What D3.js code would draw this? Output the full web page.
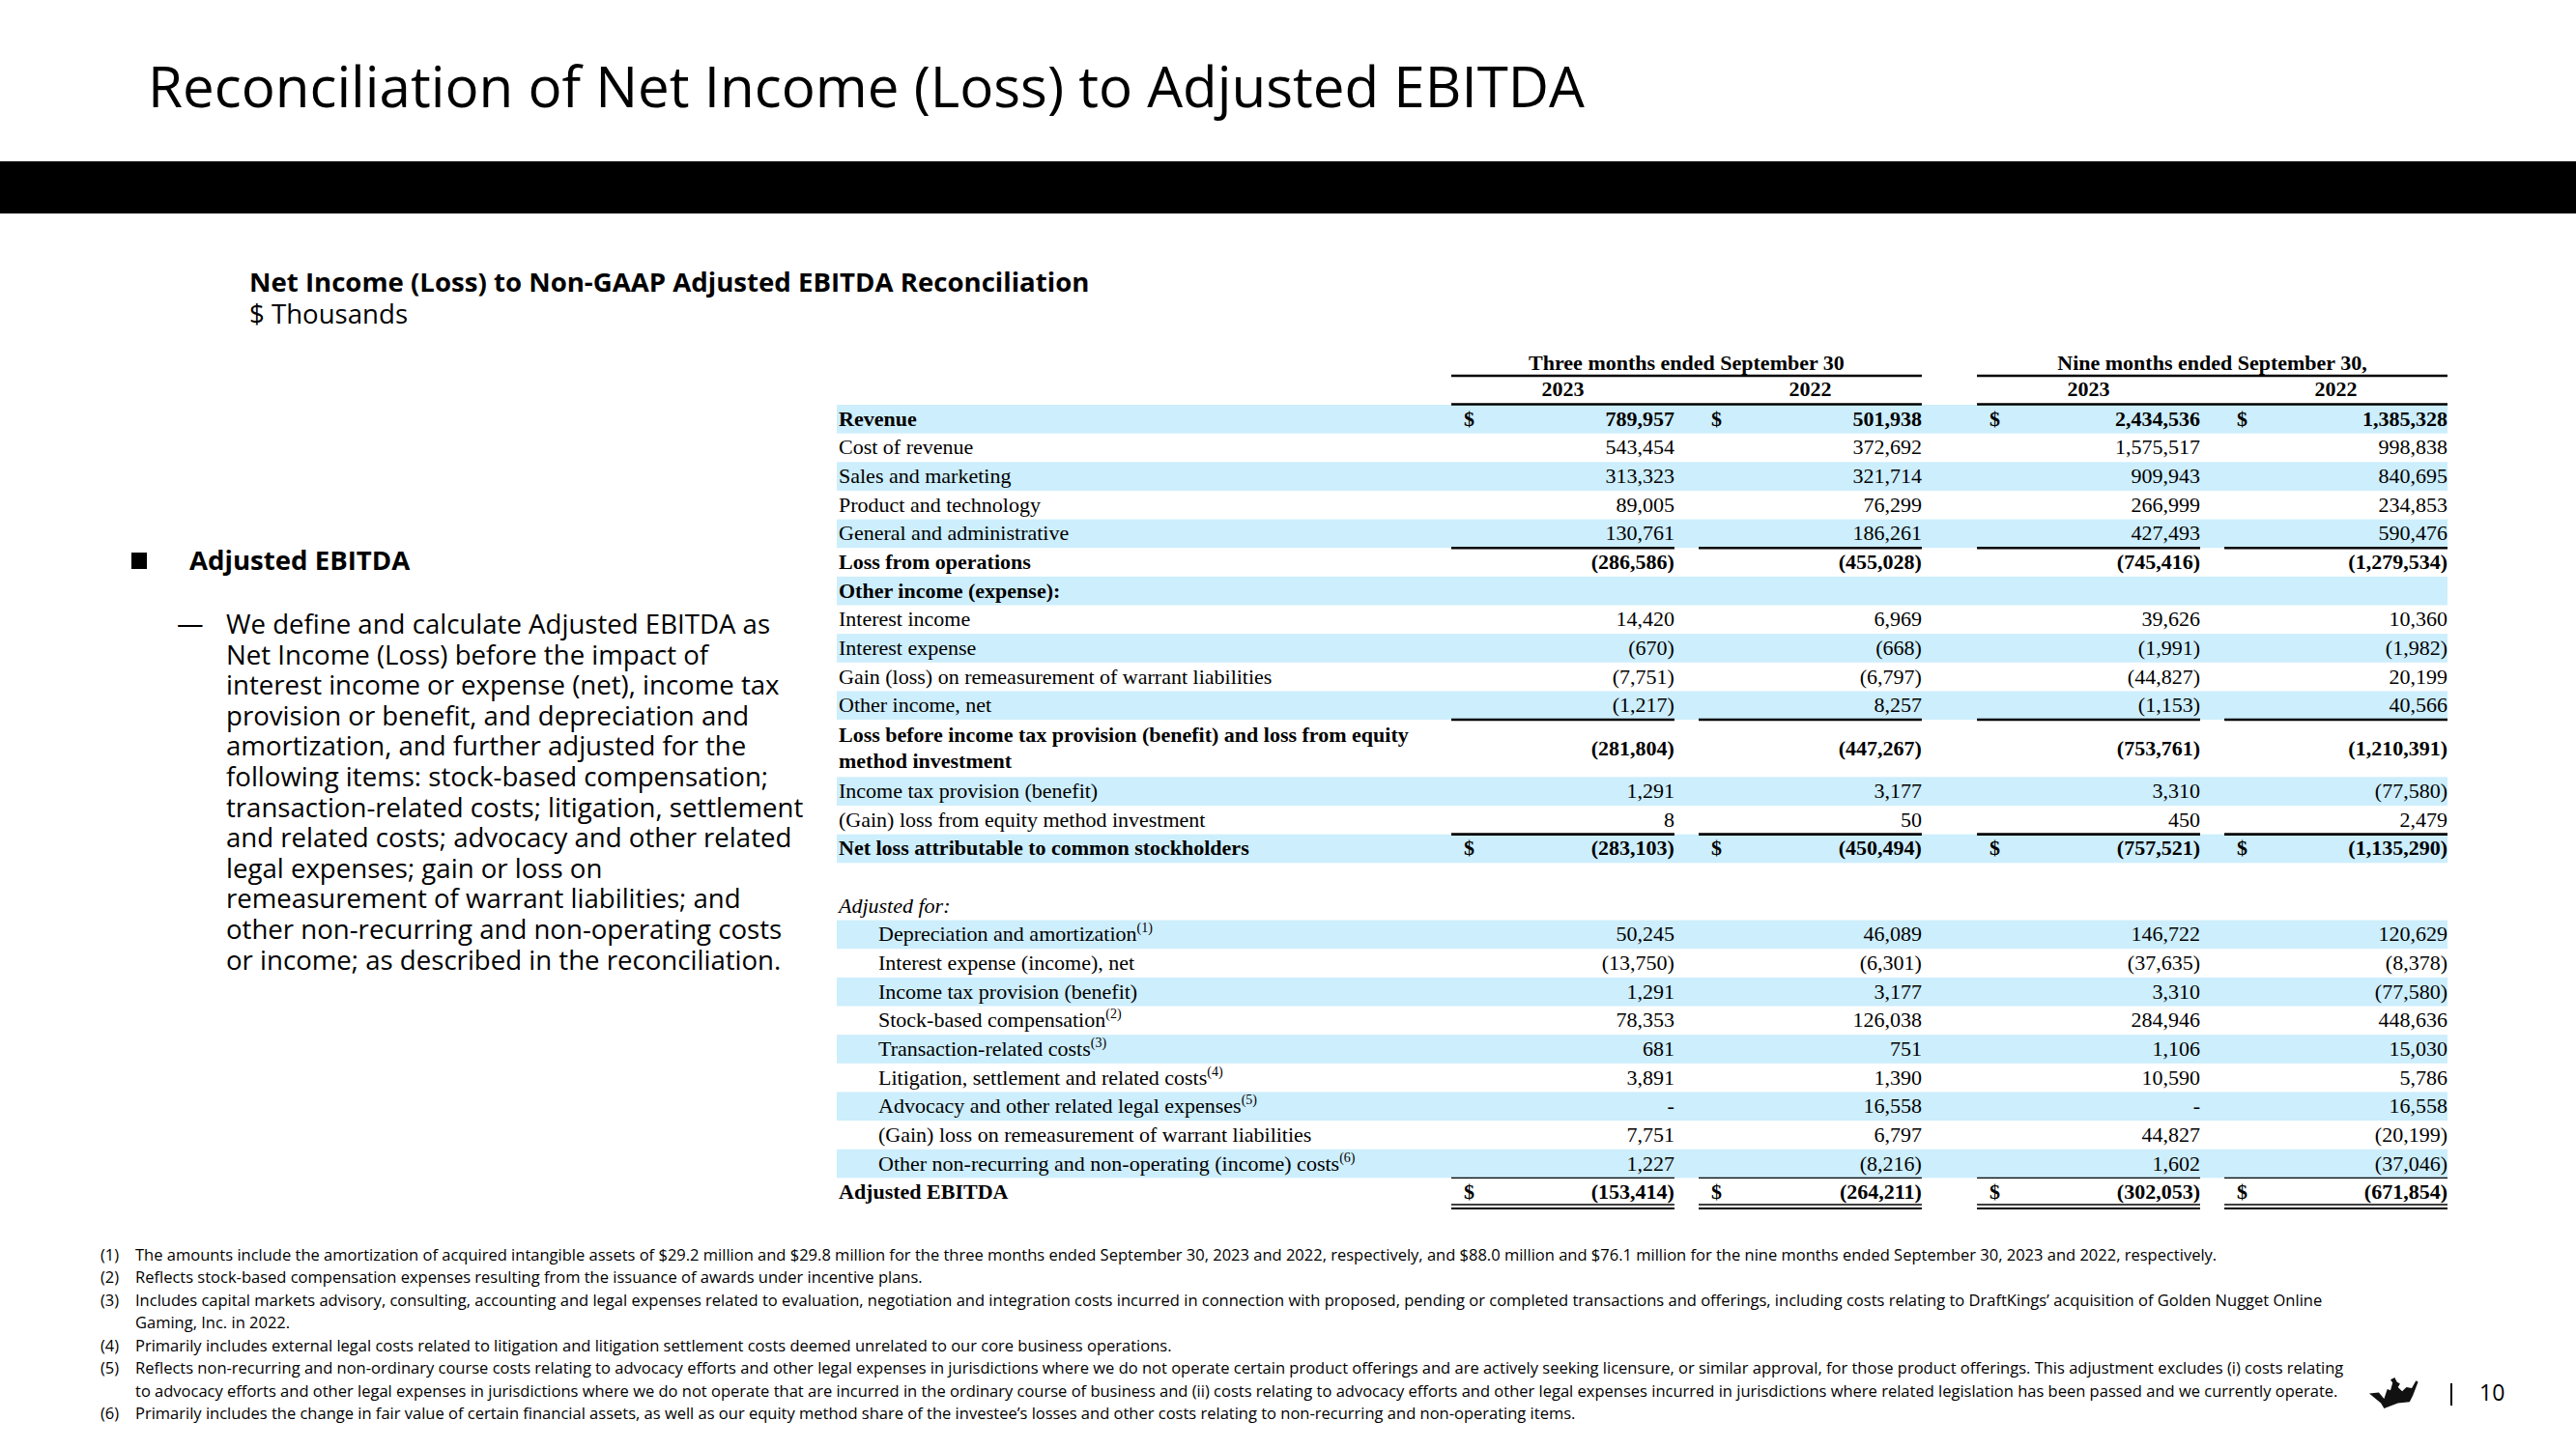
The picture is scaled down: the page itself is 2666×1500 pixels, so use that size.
<!DOCTYPE html>
<html>
<head>
<meta charset="utf-8">
<script src="https://cdn.jsdelivr.net/npm/d3@7"></script>
<style>
  html, body { margin: 0; padding: 0; background: #fff; }
  svg { display: block; }
</style>
</head>
<body>
<div id="chart"></div>
<script>
// Table rows
var rowLabels = [
  "Revenue", "Cost of revenue", "Sales and marketing", "Product and technology",
  "General and administrative", "Loss from operations", "Other income (expense):",
  "Interest income", "Interest expense", "Gain (loss) on remeasurement of warrant liabilities",
  "Other income, net",
  "Loss before income tax provision (benefit) and loss from equity\nmethod investment",
  "Income tax provision (benefit)", "(Gain) loss from equity method investment",
  "Net loss attributable to common stockholders", "", "Adjusted for:",
  "Depreciation and amortization", "Interest expense (income), net",
  "Income tax provision (benefit)", "Stock-based compensation", "Transaction-related costs",
  "Litigation, settlement and related costs", "Advocacy and other related legal expenses",
  "(Gain) loss on remeasurement of warrant liabilities",
  "Other non-recurring and non-operating (income) costs", "Adjusted EBITDA"
];
var footRefs = [null, null, null, null, null, null, null, null, null, null, null, null, null, null,
  null, null, null, "(1)", null, null, "(2)", "(3)", "(4)", "(5)", null, "(6)", null];

// Values, $ thousands
var q3_2023 = [789957, 543454, 313323, 89005, 130761, -286586, null, 14420, -670, -7751, -1217,
  -281804, 1291, 8, -283103, null, null, 50245, -13750, 1291, 78353, 681, 3891, 0, 7751, 1227, -153414];
var q3_2022 = [501938, 372692, 321714, 76299, 186261, -455028, null, 6969, -668, -6797, 8257,
  -447267, 3177, 50, -450494, null, null, 46089, -6301, 3177, 126038, 751, 1390, 16558, 6797, -8216, -264211];
var ytd_2023 = [2434536, 1575517, 909943, 266999, 427493, -745416, null, 39626, -1991, -44827, -1153,
  -753761, 3310, 450, -757521, null, null, 146722, -37635, 3310, 284946, 1106, 10590, 0, 44827, 1602, -302053];
var ytd_2022 = [1385328, 998838, 840695, 234853, 590476, -1279534, null, 10360, -1982, 20199, 40566,
  -1210391, -77580, 2479, -1135290, null, null, 120629, -8378, -77580, 448636, 15030, 5786, 16558, -20199, -37046, -671854];

var periodLabels = ["Three months ended September 30", "Nine months ended September 30,"];
var yearLabels = ["2023", "2022"];

var bulletTitle = "Adjusted EBITDA";
var bulletLines = [
  "We define and calculate Adjusted EBITDA as",
  "Net Income (Loss) before the impact of",
  "interest income or expense (net), income tax",
  "provision or benefit, and depreciation and",
  "amortization, and further adjusted for the",
  "following items: stock-based compensation;",
  "transaction-related costs; litigation, settlement",
  "and related costs; advocacy and other related",
  "legal expenses; gain or loss on",
  "remeasurement of warrant liabilities; and",
  "other non-recurring and non-operating costs",
  "or income; as described in the reconciliation."
];

var footNums = ["(1)", "(2)", "(3)", "(4)", "(5)", "(6)"];
var footTexts = [
  ["The amounts include the amortization of acquired intangible assets of $29.2 million and $29.8 million for the three months ended September 30, 2023 and 2022, respectively, and $88.0 million and $76.1 million for the nine months ended September 30, 2023 and 2022, respectively."],
  ["Reflects stock-based compensation expenses resulting from the issuance of awards under incentive plans."],
  ["Includes capital markets advisory, consulting, accounting and legal expenses related to evaluation, negotiation and integration costs incurred in connection with proposed, pending or completed transactions and offerings, including costs relating to DraftKings\u2019 acquisition of Golden Nugget Online",
   "Gaming, Inc. in 2022."],
  ["Primarily includes external legal costs related to litigation and litigation settlement costs deemed unrelated to our core business operations."],
  ["Reflects non-recurring and non-ordinary course costs relating to advocacy efforts and other legal expenses in jurisdictions where we do not operate certain product offerings and are actively seeking licensure, or similar approval, for those product offerings. This adjustment excludes (i) costs relating",
   "to advocacy efforts and other legal expenses in jurisdictions where we do not operate that are incurred in the ordinary course of business and (ii) costs relating to advocacy efforts and other legal expenses incurred in jurisdictions where related legislation has been passed and we currently operate."],
  ["Primarily includes the change in fair value of certain financial assets, as well as our equity method share of the investee\u2019s losses and other costs relating to non-recurring and non-operating items."]
];

// Row styling
var boldRows = [0, 5, 6, 11, 14, 26];
var dollarRows = [0, 14, 26];
var italicRows = [16];
var indentRows = d3.range(17, 26);
var shadedRows = [0, 2, 4, 6, 8, 10, 12, 14, 17, 19, 21, 23, 25];
var subtotalRows = [5, 11, 14];

var W = 2666, H = 1500;
var sans = "'Open Sans', 'Noto Sans', sans-serif";
var serif = "'Liberation Serif', 'Times New Roman', serif";
var fs = 22;

var svg = d3.select('#chart').append('svg')
  .attr('width', W)
  .attr('height', H);

svg.append('rect').attr('width', W).attr('height', H).attr('fill', '#fff');

// Title + black band
svg.append('text')
  .attr('x', 153).attr('y', 111)
  .attr('font-family', sans).attr('font-size', 58.3)
  .attr('fill', '#000')
  .text('Reconciliation of Net Income (Loss) to Adjusted EBITDA');

svg.append('rect')
  .attr('x', 0).attr('y', 167)
  .attr('width', W).attr('height', 54)
  .attr('fill', '#000');

svg.append('text')
  .attr('x', 258).attr('y', 302)
  .attr('font-family', sans).attr('font-size', 27.6).attr('font-weight', 700)
  .text('Net Income (Loss) to Non-GAAP Adjusted EBITDA Reconciliation');

svg.append('text')
  .attr('x', 258).attr('y', 335)
  .attr('font-family', sans).attr('font-size', 27.6)
  .text('$ Thousands');

// Left commentary
svg.append('rect')
  .attr('x', 136).attr('y', 572)
  .attr('width', 16).attr('height', 17)
  .attr('fill', '#000');

svg.append('text')
  .attr('x', 196).attr('y', 590)
  .attr('font-family', sans).attr('font-size', 27.6).attr('font-weight', 700)
  .text(bulletTitle);

svg.append('text')
  .attr('x', 183).attr('y', 655)
  .attr('font-family', sans).attr('font-size', 27.6)
  .text('\u2014');

// paragraph as one text block, one tspan per line
svg.append('text')
  .attr('font-family', sans).attr('font-size', 27.6)
  .selectAll('tspan')
  .data(bulletLines)
  .join('tspan')
    .attr('x', 234)
    .attr('y', function(d, i) { return 656 + i * 31.6; })
    .text(function(d) { return d; });

// Table scales
var rowUnits = rowLabels.map(function(d) { return d.indexOf('\n') >= 0 ? 2 : 1; });
var rowStart = [0].concat(Array.from(d3.cumsum(rowUnits)));
var y = d3.scaleLinear()
  .domain([0, d3.sum(rowUnits)])
  .range([419, 1249]);

var labelX = 868, indentX = 909;
var tableLeft = 866, tableRight = 2533;

var group = d3.scaleBand()
  .domain(periodLabels)
  .range([1502, tableRight])
  .paddingInner(0.105);

var year = d3.scaleBand()
  .domain(yearLabels)
  .range([0, group.bandwidth()])
  .paddingInner(0.098);

var series = [q3_2023, q3_2022, ytd_2023, ytd_2022];
var columns = series.map(function(vals, c) {
  var p = periodLabels[Math.floor(c / 2)], yr = yearLabels[c % 2];
  var x0 = group(p) + year(yr);
  return { values: vals, x0: x0, x1: x0 + year.bandwidth() };
});

var num = d3.format(',');
function fmt(v) {
  if (v == null) return '';
  if (v === 0) return '-';
  return v < 0 ? '(' + num(-v) + ')' : num(v);
}

function rowTop(i) { return y(rowStart[i]); }
function rowBottom(i) { return y(rowStart[i] + rowUnits[i]); }
function rowBase(i) { return (rowTop(i) + rowBottom(i)) / 2 + 7; }

var table = svg.append('g');

// Shaded bands
table.append('g')
  .selectAll('rect')
  .data(shadedRows)
  .join('rect')
    .attr('x', tableLeft)
    .attr('y', function(i) { return rowTop(i); })
    .attr('width', tableRight - tableLeft)
    .attr('height', function(i) { return rowBottom(i) - rowTop(i); })
    .attr('fill', '#cdeefc');

// Column headers
var head = table.append('g')
  .attr('font-family', serif).attr('font-size', fs).attr('font-weight', 700)
  .attr('text-anchor', 'middle');

head.selectAll('text.period')
  .data(periodLabels)
  .join('text')
    .attr('class', 'period')
    .attr('x', function(d) { return group(d) + group.bandwidth() / 2; })
    .attr('y', y(0) - 36)
    .text(function(d) { return d; });

head.selectAll('text.year')
  .data(columns)
  .join('text')
    .attr('class', 'year')
    .attr('x', function(d) { return (d.x0 + d.x1) / 2; })
    .attr('y', y(0) - 9)
    .text(function(d, c) { return yearLabels[c % 2]; });

table.append('g')
  .selectAll('line')
  .data(periodLabels.flatMap(function(p) { return [[p, y(0) - 30], [p, y(0) - 0.5]]; }))
  .join('line')
    .attr('x1', function(d) { return group(d[0]); })
    .attr('x2', function(d) { return group(d[0]) + group.bandwidth(); })
    .attr('y1', function(d) { return d[1]; })
    .attr('y2', function(d) { return d[1]; })
    .attr('stroke', '#000')
    .attr('stroke-width', 2.6);

// Row labels
var labels = table.append('g')
  .attr('font-family', serif).attr('font-size', fs).attr('fill', '#000');

rowLabels.forEach(function(label, i) {
  if (!label) return;
  var t = labels.append('text')
    .attr('x', indentRows.indexOf(i) >= 0 ? indentX : labelX)
    .attr('y', rowBase(i))
    .attr('font-weight', boldRows.indexOf(i) >= 0 ? 700 : 400)
    .attr('font-style', italicRows.indexOf(i) >= 0 ? 'italic' : 'normal');
  var parts = label.split('\n');
  if (parts.length > 1) {
    parts.forEach(function(p, k) {
      t.append('tspan')
        .attr('x', labelX)
        .attr('y', rowBase(i) + (k - 0.5) * 27)
        .text(p);
    });
  } else {
    t.append('tspan').text(label);
  }
  if (footRefs[i]) {
    t.append('tspan')
      .attr('dy', -9)
      .attr('font-size', 14)
      .text(footRefs[i]);
  }
});

// Values
var vals = table.append('g')
  .attr('font-family', serif).attr('font-size', fs).attr('fill', '#000');

columns.forEach(function(col) {
  vals.append('g')
    .attr('text-anchor', 'end')
    .selectAll('text')
    .data(col.values.map(function(v, i) { return { v: v, i: i }; }).filter(function(d) { return d.v != null; }))
    .join('text')
      .attr('x', col.x1)
      .attr('y', function(d) { return rowBase(d.i); })
      .attr('font-weight', function(d) { return boldRows.indexOf(d.i) >= 0 ? 700 : 400; })
      .text(function(d) { return fmt(d.v); });

  vals.append('g')
    .selectAll('text')
    .data(dollarRows)
    .join('text')
      .attr('x', col.x0 + 13)
      .attr('y', function(i) { return rowBase(i); })
      .attr('font-weight', 700)
      .text('$');

  // subtotal rules
  vals.append('g')
    .selectAll('line')
    .data(subtotalRows)
    .join('line')
      .attr('x1', col.x0).attr('x2', col.x1)
      .attr('y1', function(i) { return rowTop(i); })
      .attr('y2', function(i) { return rowTop(i); })
      .attr('stroke', '#000').attr('stroke-width', 2.6);

  // total rules
  var last = rowLabels.length - 1;
  var rules = [[rowTop(last), 1.4], [rowBottom(last) - 2, 1.4], [rowBottom(last) + 2, 2]];
  vals.append('g')
    .selectAll('line')
    .data(rules)
    .join('line')
      .attr('x1', col.x0).attr('x2', col.x1)
      .attr('y1', function(d) { return d[0]; })
      .attr('y2', function(d) { return d[0]; })
      .attr('stroke', '#000').attr('stroke-width', function(d) { return d[1]; });
});

// Footnotes
var footLines = [];
footTexts.forEach(function(lines, n) {
  lines.forEach(function(line, k) { footLines.push({ num: k === 0 ? footNums[n] : '', text: line, n: n }); });
});
var footY = d3.scaleLinear().domain([0, footLines.length - 1]).range([1305, 1469]);

var foot = svg.append('g')
  .attr('font-family', sans).attr('font-size', 16.5).attr('fill', '#000');

foot.selectAll('text.num')
  .data(footLines)
  .join('text')
    .attr('class', 'num')
    .attr('x', 104)
    .attr('y', function(d, i) { return footY(i); })
    .text(function(d) { return d.num; });

foot.selectAll('text.fn')
  .data(footLines)
  .join('text')
    .attr('class', 'fn')
    .attr('x', 140)
    .attr('y', function(d, i) { return footY(i); })
    .text(function(d) { return d.text; });

// Logo + page number
var crown = svg.append('g').attr('transform', 'translate(2452,1426) scale(1.1)');
crown.append('path')
  .attr('d', 'M0,15 L9,14 L14,20 L17,11 L20,12 L22,5 L20,2 L24,0 L26,4 L29,6 L27,9 L31,13 L35,9 L40,10 L44,3 L46,4 L41,17 L38,23 L27,24 L14,29 L11,24 Z')
  .attr('fill', '#111');

svg.append('line')
  .attr('x1', 2537).attr('x2', 2537)
  .attr('y1', 1432).attr('y2', 1455)
  .attr('stroke', '#000').attr('stroke-width', 2);

svg.append('text')
  .attr('x', 2566).attr('y', 1450)
  .attr('font-family', sans).attr('font-size', 23)
  .text('10');
</script>
</body>
</html>
